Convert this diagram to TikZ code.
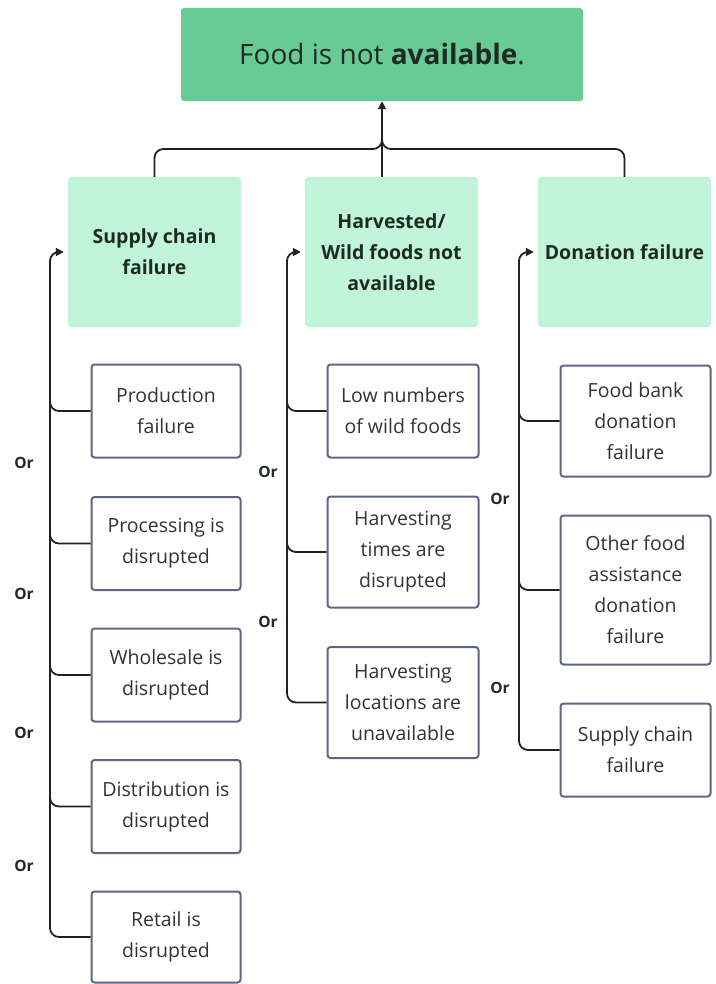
\documentclass[tikz,border=0pt]{standalone}
\usepackage{fontspec}
\setmainfont{Open Sans}
\usetikzlibrary{arrows.meta,calc}
\definecolor{topg}{HTML}{68CB95}
\definecolor{lightg}{HTML}{C0F5DA}
\definecolor{bord}{HTML}{5E6684}
\definecolor{txt}{HTML}{333333}
\definecolor{hdr}{HTML}{1F2A24}
\definecolor{ln}{HTML}{222222}
\begin{document}
\begin{tikzpicture}[x=1pt,y=-1pt,
 topbox/.style={fill=topg, rounded corners=3pt, text=hdr, font=\fontsize{28}{34}\selectfont, minimum width=402pt, minimum height=93pt, inner sep=0pt},
 hbox/.style={fill=lightg, rounded corners=3pt, text=hdr, font=\fontsize{19.5}{31}\selectfont\bfseries, align=center, minimum width=173pt, minimum height=150pt, inner sep=0pt},
 cbox/.style={draw=bord, line width=2pt, fill=white, rounded corners=3pt, text=txt, font=\fontsize{19.5}{31}\selectfont, align=center, inner sep=0pt},
 conn/.style={draw=ln, line width=1.8pt, rounded corners=9pt},
 arr/.style={conn, -{Triangle[length=8pt,width=8pt]}},
 orlab/.style={font=\fontsize{15.5}{18}\selectfont\bfseries, text=hdr}
]
\useasboundingbox (0,0) rectangle (715,984);

% top
\node[topbox] (top) at (382,54.5) {Food is not \textbf{available}.};

% headers
\node[hbox] (sc) at (154.5,252) {Supply chain\\failure};
\node[hbox] (hv) at (391.5,252) {Harvested/\\Wild foods not\\available};
\node[hbox] (dn) at (624.5,252) {Donation failure};

% left children
\node[cbox, minimum width=149pt, minimum height=93pt] (p1) at (166,411) {Production\\failure};
\node[cbox, minimum width=149pt, minimum height=93pt] (p2) at (166,543.5) {Processing is\\disrupted};
\node[cbox, minimum width=149pt, minimum height=93pt] (p3) at (166,675) {Wholesale is\\disrupted};
\node[cbox, minimum width=149pt, minimum height=93pt] (p4) at (166,806.5) {Distribution is\\disrupted};
\node[cbox, minimum width=149pt, minimum height=91pt] (p5) at (166,937) {Retail is\\disrupted};

% middle children
\node[cbox, minimum width=151pt, minimum height=93pt] (m1) at (403,411) {Low numbers\\of wild foods};
\node[cbox, minimum width=151pt, minimum height=111pt] (m2) at (403,552) {Harvesting\\times are\\disrupted};
\node[cbox, minimum width=151pt, minimum height=111pt] (m3) at (403,702.5) {Harvesting\\locations are\\unavailable};

% right children
\node[cbox, minimum width=150pt, minimum height=111pt] (r1) at (635.5,421) {Food bank\\donation\\failure};
\node[cbox, minimum width=150pt, minimum height=149pt] (r2) at (635.5,590) {Other food\\assistance\\donation\\failure};
\node[cbox, minimum width=150pt, minimum height=93pt] (r3) at (635.5,750) {Supply chain\\failure};

% top connectors
\coordinate (jn) at (382,149);
\coordinate (ju) at (382,125);
\draw[conn] (sc.north) |- (jn) -- (ju);
\draw[conn] (dn.north) |- (jn) -- (ju);
\draw[arr] (hv.north -| top.south) -- (top.south);

% left column connectors
\coordinate (la) at (50,252);
\coordinate (lb) at (50,320);
\draw[arr, shorten >=4pt] (p5.west) -| (la) -- (sc.west);
\foreach \n in {p1,p2,p3,p4} \draw[conn] (\n.west) -| (lb);

% middle column connectors
\coordinate (ma) at (287,252);
\coordinate (mb) at (287,320);
\draw[arr, shorten >=4pt] (m3.west) -| (ma) -- (hv.west);
\foreach \n in {m1,m2} \draw[conn] (\n.west) -| (mb);

% right column connectors
\coordinate (ra) at (519,252);
\coordinate (rb) at (519,320);
\draw[arr, shorten >=4pt] (r3.west) -| (ra) -- (dn.west);
\foreach \n in {r1,r2} \draw[conn] (\n.west) -| (rb);

% Or labels
\node[orlab] (o1) at (24,463) {Or};
\node[orlab] (o2) at (24,594) {Or};
\node[orlab] (o3) at (24,733) {Or};
\node[orlab] (o4) at (24,866) {Or};
\node[orlab] (o5) at (268,472) {Or};
\node[orlab] (o6) at (268,622) {Or};
\node[orlab] (o7) at (500,499) {Or};
\node[orlab] (o8) at (500,688) {Or};
\end{tikzpicture}
\end{document}
